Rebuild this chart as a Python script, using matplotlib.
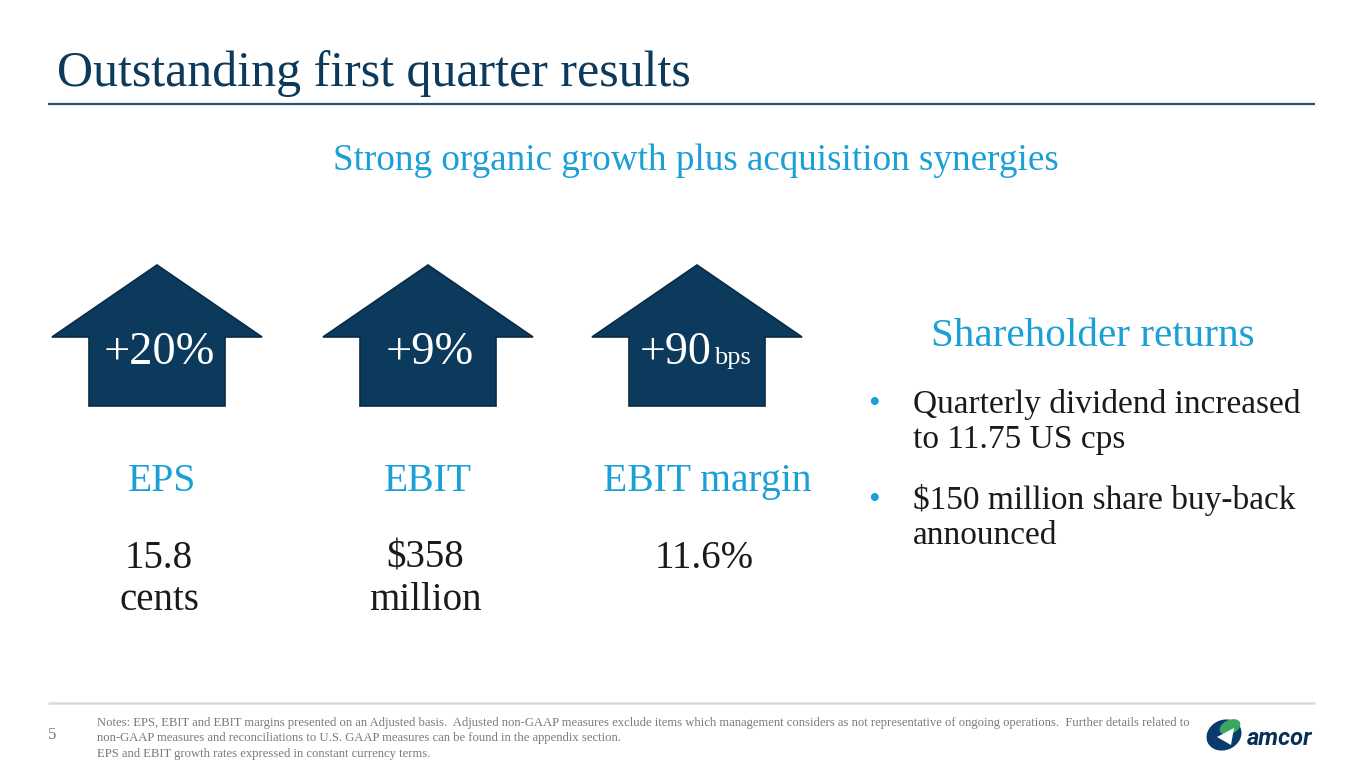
import matplotlib
matplotlib.use("Agg")
import matplotlib.pyplot as plt
from matplotlib.patches import Polygon, Ellipse

NAVY = "#0b3a5c"
CYAN = "#1a9fd6"
INK = "#1a1a1a"
GREY = "#7a7a7a"
SERIF = ["Liberation Serif", "DejaVu Serif"]

# slide content
title = "Outstanding first quarter results"
subtitle = "Strong organic growth plus acquisition synergies"
metrics = ["EPS", "EBIT", "EBIT margin"]
growth = ["+20%", "+9%", "+90"]
growth_unit = ["", "", "bps"]
value_main = ["15.8", "$358", "11.6%"]
value_unit = ["cents", "million", ""]
returns_title = "Shareholder returns"
bullets = [
    ["Quarterly dividend increased", "to 11.75 US cps"],
    ["$150 million share buy-back", "announced"],
]
notes = [
    "Notes: EPS, EBIT and EBIT margins presented on an Adjusted basis.  Adjusted non-GAAP measures exclude items "
    "which management considers as not representative of ongoing operations.  Further details related to",
    "non-GAAP measures and reconciliations to U.S. GAAP measures can be found in the appendix section.",
    "EPS and EBIT growth rates expressed in constant currency terms.",
]
page_no = "5"

# layout (pixel coordinates of the slide)
arrow_x = [157, 428, 697]
label_x = [162, 428, 707]

fig = plt.figure(figsize=(13.65, 7.68), dpi=100)
ax = fig.add_axes([0, 0, 1, 1])
ax.set_xlim(0, 1365)
ax.set_ylim(768, 0)
ax.axis("off")

# header
ax.text(57, 86, title, fontsize=36, color=NAVY, family=SERIF, va="baseline")
ax.plot([48, 1315], [104, 104], color="#2a5275", lw=1.6, solid_capstyle="butt")
ax.text(696, 170, subtitle, fontsize=26.7, color=CYAN, family=SERIF,
        ha="center", va="baseline")

# up arrows
for cx, g, unit in zip(arrow_x, growth, growth_unit):
    pts = [(cx, 265), (cx + 105, 337), (cx + 68, 337), (cx + 68, 406),
           (cx - 68, 406), (cx - 68, 337), (cx - 105, 337)]
    ax.add_patch(Polygon(pts, closed=True, facecolor=NAVY, edgecolor="#082b47", lw=1.2))
    if unit:
        ax.text(cx + 15, 364, g, fontsize=33, color="white", family=SERIF,
                ha="right", va="baseline")
        ax.text(cx + 17, 364, unit, fontsize=19, color="white", family=SERIF,
                ha="left", va="baseline")
    else:
        ax.text(cx + 2, 364, g, fontsize=33.5, color="white", family=SERIF,
                ha="center", va="baseline")

# metric labels and values
for lx, m, v, u in zip(label_x, metrics, value_main, value_unit):
    ax.text(lx, 491, m, fontsize=28.5, color=CYAN, family=SERIF,
            ha="center", va="baseline")
    ax.text(lx - 3, 568, v, fontsize=28, color=INK, family=SERIF,
            ha="center", va="baseline")
    if u:
        ax.text(lx - 3, 610, u, fontsize=28, color=INK, family=SERIF,
                ha="center", va="baseline")

# shareholder returns
ax.text(1093, 346, returns_title, fontsize=29.6, color=CYAN, family=SERIF,
        ha="center", va="baseline")
y = 413
for lines in bullets:
    ax.text(874, y - 8, "\u2022", fontsize=24, color=CYAN, family=SERIF,
            ha="center", va="center")
    for line in lines:
        ax.text(913, y, line, fontsize=24, color=INK, family=SERIF, va="baseline")
        y += 35
    y += 26

# footer
ax.plot([48, 1315], [703, 703], color="#d9d9d9", lw=1.8, solid_capstyle="butt")
ax.text(48, 739, page_no, fontsize=12, color=GREY, family=SERIF, va="baseline")
for i, line in enumerate(notes):
    ax.text(97, 726 + i * 15.5, line, fontsize=9.1, color=GREY, family=SERIF,
            va="baseline")

# amcor logo
ax.add_patch(Ellipse((1224, 735), 36, 30, angle=-25, facecolor="#0b3a6e", lw=0))
ax.add_patch(Ellipse((1230, 727), 22, 14, angle=-25, facecolor="#3aa860", lw=0))
ax.add_patch(Polygon([(1217, 737), (1234, 728), (1231, 745)], closed=True,
                     facecolor="white", lw=0))
ax.text(1247, 745, "amcor", fontsize=17, color="#0b2e59", family="Roboto",
        fontweight="bold", fontstyle="italic", va="baseline")

fig.savefig("out.png", dpi=100)
